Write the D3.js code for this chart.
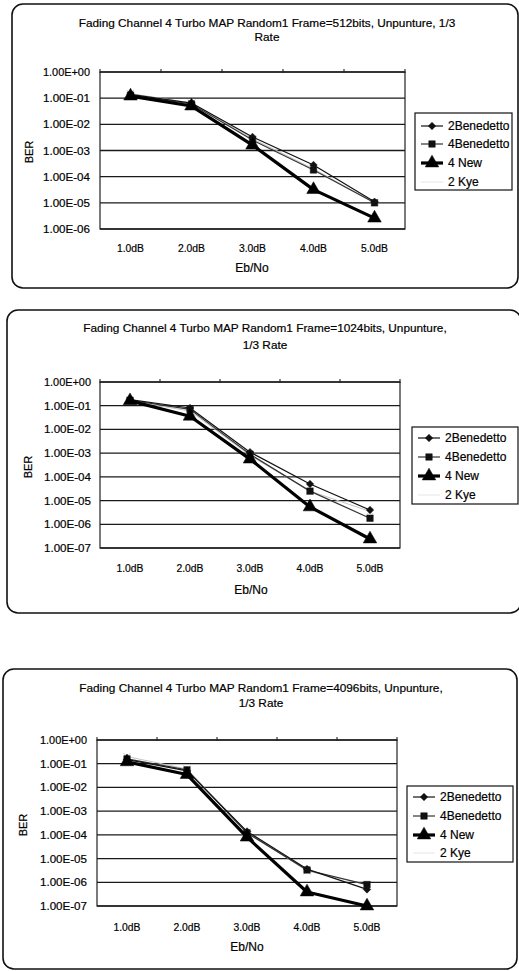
<!DOCTYPE html>
<html>
<head>
<meta charset="utf-8">
<script src="https://cdn.jsdelivr.net/npm/d3@7"></script>
<style>
html,body{margin:0;padding:0;background:#fff;}
svg{display:block;}
text{font-family:"Liberation Sans",Arial,Helvetica,sans-serif;fill:#000;stroke:#000;stroke-width:0.2px;}
</style>
</head>
<body>
<svg id="chart" width="519" height="971"></svg>
<script>
// ---------- data ----------
const categories = ["1.0dB", "2.0dB", "3.0dB", "4.0dB", "5.0dB"];
const seriesNames = ["2Benedetto", "4Benedetto", "4 New", "2 Kye"];
const yTicks6 = ["1.00E+00", "1.00E-01", "1.00E-02", "1.00E-03", "1.00E-04", "1.00E-05", "1.00E-06"];
const yTicks7 = ["1.00E+00", "1.00E-01", "1.00E-02", "1.00E-03", "1.00E-04", "1.00E-05", "1.00E-06", "1.00E-07"];
const yTickValues6 = [1, 1e-1, 1e-2, 1e-3, 1e-4, 1e-5, 1e-6];
const yTickValues7 = [1, 1e-1, 1e-2, 1e-3, 1e-4, 1e-5, 1e-6, 1e-7];

const title512 = ["Fading Channel 4 Turbo MAP Random1 Frame=512bits, Unpunture, 1/3", "Rate"];
const title1024 = ["Fading Channel 4 Turbo MAP Random1 Frame=1024bits, Unpunture,", "1/3 Rate"];
const title4096 = ["Fading Channel 4 Turbo MAP Random1 Frame=4096bits, Unpunture,", "1/3 Rate"];

const benedetto2_512 = [1.4e-1, 6.5e-2, 3.3e-3, 2.8e-4, 1.1e-5];
const benedetto4_512 = [1.3e-1, 6.0e-2, 2.5e-3, 1.8e-4, 1.0e-5];
const new4_512       = [1.2e-1, 5.0e-2, 1.6e-3, 3.2e-5, 2.6e-6];
const kye2_512       = [1.5e-1, 6.5e-2, 2.8e-3, 2.0e-4, 1.0e-5];

const benedetto2_1024 = [1.8e-1, 8.0e-2, 1.1e-3, 5.0e-5, 4.0e-6];
const benedetto4_1024 = [1.7e-1, 7.0e-2, 9.0e-4, 2.5e-5, 1.8e-6];
const new4_1024       = [1.6e-1, 3.6e-2, 5.6e-4, 5.4e-6, 2.4e-7];
const kye2_1024       = [1.6e-1, 6.0e-2, 8.0e-4, 2.5e-5, 3.5e-6];

const benedetto2_4096 = [1.5e-1, 5.0e-2, 1.4e-4, 3.6e-6, 5.0e-7];
const benedetto4_4096 = [1.6e-1, 5.5e-2, 1.2e-4, 3.3e-6, 8.0e-7];
const new4_4096       = [1.2e-1, 3.5e-2, 8.0e-5, 3.9e-7, 1.0e-7];
const kye2_4096       = [2.0e-1, 6.0e-2, 1.3e-4, 3.0e-6, 8.0e-7];

// ---------- styles ----------
const diamond = {
  draw(ctx, size) {
    const r = Math.sqrt(size) / 1.6;
    ctx.moveTo(0, -r); ctx.lineTo(r, 0); ctx.lineTo(0, r); ctx.lineTo(-r, 0); ctx.closePath();
  }
};
const styles = [
  {stroke:"#111", width:1.2, marker:"diamond", size:36, fill:"#111", mstroke:"#111"},
  {stroke:"#333", width:1.2, marker:"square", size:42, fill:"#111", mstroke:"#111"},
  {stroke:"#000", width:3.2, marker:"triangle", size:80, fill:"#000", mstroke:"#000"},
  {stroke:"#c4c4c4", width:1, marker:"cross", size:36, fill:"#aaa", mstroke:"#999"}
];
const symbolMap = {diamond:diamond, square:d3.symbolSquare, triangle:d3.symbolTriangle, cross:d3.symbolX};

const svg = d3.select("#chart");

function drawChart(cfg) {
  const g = svg.append("g");
  // frame
  g.append("rect").attr("x", cfg.box[0]).attr("y", cfg.box[1]).attr("width", cfg.box[2]).attr("height", cfg.box[3])
    .attr("rx", 11).attr("ry", 11).attr("fill", "none").attr("stroke", "#111").attr("stroke-width", 1.6);
  // title
  cfg.title.forEach((t, i) => {
    g.append("text").attr("x", cfg.titleX).attr("y", cfg.titleY[i]).attr("text-anchor", "middle")
      .attr("dominant-baseline", "central").style("font-size", "11.8px").text(t);
  });
  const p = cfg.plot;
  const x = d3.scaleBand().domain(categories).range([p.l, p.r]);
  const y = d3.scaleLog().domain([cfg.yTickValues[cfg.yTickValues.length - 1], 1]).range([p.b, p.t]);

  // gridlines
  g.append("g").selectAll("line").data(cfg.yTickValues).join("line")
    .attr("x1", p.l).attr("x2", p.r).attr("y1", d => y(d)).attr("y2", d => y(d))
    .attr("stroke", "#1a1a1a").attr("stroke-width", 1.3);
  // plot border
  g.append("rect").attr("x", p.l).attr("y", p.t).attr("width", p.r - p.l).attr("height", p.b - p.t)
    .attr("fill", "none").attr("stroke", "#222").attr("stroke-width", 1.2);
  // top category tick marks
  const bounds = categories.map(c => x(c)).concat([p.r]);
  g.append("g").selectAll("line").data(bounds).join("line")
    .attr("x1", d => d).attr("x2", d => d).attr("y1", p.t - 3).attr("y2", p.t + 1)
    .attr("stroke", "#222").attr("stroke-width", 1.1);

  // y tick labels
  g.append("g").selectAll("text").data(cfg.yTickValues).join("text")
    .attr("x", cfg.yLabelX).attr("y", d => y(d)).attr("text-anchor", "end")
    .attr("dominant-baseline", "central").style("font-size", "11px")
    .attr("textLength", 47).attr("lengthAdjust", "spacingAndGlyphs")
    .text((d, i) => cfg.yTickLabels[i]);
  // x tick labels
  g.append("g").selectAll("text").data(categories).join("text")
    .attr("x", d => x(d) + x.bandwidth() / 2).attr("y", cfg.xLabelY).attr("text-anchor", "middle")
    .attr("dominant-baseline", "central").style("font-size", "11px")
    .attr("textLength", 27).attr("lengthAdjust", "spacingAndGlyphs").text(d => d);
  // axis titles
  g.append("text").attr("x", cfg.xTitle[0]).attr("y", cfg.xTitle[1]).attr("text-anchor", "middle")
    .attr("dominant-baseline", "central").style("font-size", "12px").text("Eb/No");
  g.append("text").attr("transform", `translate(${cfg.yTitle[0]},${cfg.yTitle[1]}) rotate(-90)`)
    .attr("text-anchor", "middle").attr("dominant-baseline", "central").style("font-size", "11px").text("BER");

  // series (draw Kye first, then others)
  const order = [3, 1, 0, 2];
  const line = d3.line().x((d, i) => x(categories[i]) + x.bandwidth() / 2).y(d => y(d));
  order.forEach(si => {
    const s = styles[si];
    const vals = cfg.series[si];
    g.append("path").datum(vals).attr("d", line).attr("fill", "none")
      .attr("stroke", s.stroke).attr("stroke-width", s.width).attr("stroke-linejoin", "round");
    g.append("g").selectAll("path").data(vals).join("path")
      .attr("transform", (d, i) => `translate(${x(categories[i]) + x.bandwidth() / 2},${y(d)})`)
      .attr("d", d3.symbol().type(symbolMap[s.marker]).size(s.size))
      .attr("fill", s.fill).attr("stroke", s.mstroke).attr("stroke-width", 0.5);
  });

  // legend
  const L = cfg.legend;
  g.append("rect").attr("x", L.x).attr("y", L.y).attr("width", L.w).attr("height", L.h)
    .attr("fill", "#fff").attr("stroke", "#111").attr("stroke-width", 1.2);
  seriesNames.forEach((name, i) => {
    const s = styles[i];
    const yy = L.rows[i];
    if (i !== 3) {
      g.append("line").attr("x1", L.x + 6).attr("x2", L.x + 28).attr("y1", yy).attr("y2", yy)
        .attr("stroke", s.stroke).attr("stroke-width", s.width);
      g.append("path").attr("transform", `translate(${L.x + 17},${yy})`)
        .attr("d", d3.symbol().type(symbolMap[s.marker]).size(s.size)).attr("fill", s.fill).attr("stroke", s.mstroke).attr("stroke-width", 0.5);
    } else {
      g.append("line").attr("x1", L.x + 6).attr("x2", L.x + 28).attr("y1", yy).attr("y2", yy)
        .attr("stroke", "#e6e6e6").attr("stroke-width", 1);
    }
    g.append("text").attr("x", L.x + 33).attr("y", yy).attr("dominant-baseline", "central")
      .style("font-size", "12px").text(name);
  });
}

drawChart({
  box: [12, 4, 506, 284], title: title512, titleX: 267, titleY: [23, 37],
  plot: {l: 100, r: 405, t: 72, b: 229}, yTickValues: yTickValues6, yTickLabels: yTicks6,
  yLabelX: 90, xLabelY: 248, xTitle: [252, 268], yTitle: [29, 152],
  series: [benedetto2_512, benedetto4_512, new4_512, kye2_512],
  legend: {x: 415, y: 113, w: 97, h: 77, rows: [126, 144, 163, 182]}
});
drawChart({
  box: [7, 310, 514, 303], title: title1024, titleX: 265, titleY: [328, 345],
  plot: {l: 100, r: 400, t: 382, b: 548}, yTickValues: yTickValues7, yTickLabels: yTicks7,
  yLabelX: 91, xLabelY: 568, xTitle: [251, 590], yTitle: [28, 467],
  series: [benedetto2_1024, benedetto4_1024, new4_1024, kye2_1024],
  legend: {x: 412, y: 427, w: 106, h: 77, rows: [438, 457, 476, 495]}
});
drawChart({
  box: [3, 669, 514, 300], title: title4096, titleX: 261, titleY: [688, 703],
  plot: {l: 97, r: 397, t: 740, b: 906}, yTickValues: yTickValues7, yTickLabels: yTicks7,
  yLabelX: 87, xLabelY: 927, xTitle: [247, 947], yTitle: [23, 825],
  series: [benedetto2_4096, benedetto4_4096, new4_4096, kye2_4096],
  legend: {x: 407, y: 786, w: 106, h: 76, rows: [797, 816, 835, 853]}
});
</script>
</body>
</html>
